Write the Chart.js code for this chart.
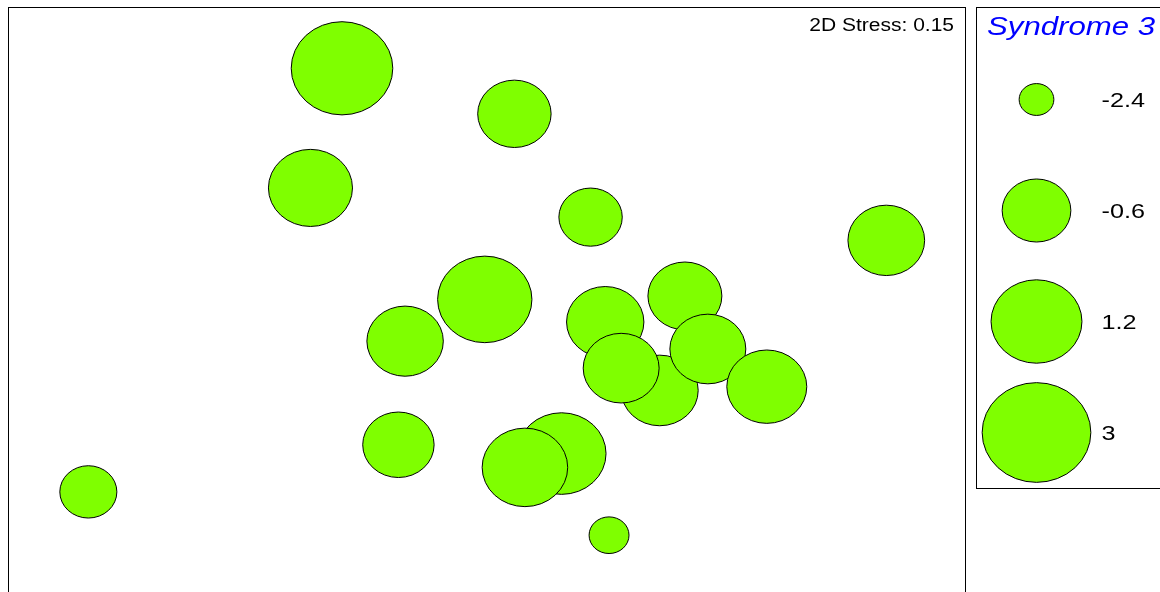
<!doctype html>
<html>

<head>
<title>NMDS bubble plot - Syndrome 3</title>
<script src="https://cdn.jsdelivr.net/npm/chart.js@4/dist/chart.umd.min.js"></script>
<style>
html, body {
	margin: 0;
	padding: 0;
	background: #fff;
	overflow: hidden;
}
#plotBox {
	position: absolute;
	left: 8px;
	top: 7px;
	width: 958px;
	height: 630px;
	border: 1px solid #000;
	box-sizing: border-box;
}
#keyBox {
	position: absolute;
	left: 976px;
	top: 7px;
	width: 250px;
	height: 482px;
	border: 1px solid #000;
	box-sizing: border-box;
}
</style>
</head>

<body>
	<div id="plotBox"><canvas id="canvas"></canvas></div>
	<div id="keyBox"><canvas id="key"></canvas></div>
	<script>
		// NMDS site scores and Syndrome 3 value for each site
		const nmds1 = [-0.455, 0.086, -0.554, 0.325, 1.253, -0.007, -0.257, 0.371, 0.621,
			0.542, 0.421, 0.693, 0.878, -0.278, 0.234, 0.119, -1.251, 0.383];
		const nmds2 = [0.808, 0.663, 0.427, 0.334, 0.260, 0.072, -0.061, 0.000, 0.083,
			-0.218, -0.147, -0.086, -0.206, -0.391, -0.419, -0.463, -0.541, -0.679];
		const syndrome3 = [2.24, -0.26, 0.59, -0.96, -0.01, 1.52, -0.03, 0.04, -0.22,
			0.01, -0.07, -0.07, 0.25, -0.41, 1.02, 0.72, -1.35, -2.20];

		const legendValues = [-2.4, -0.6, 1.2, 3];
		const legendLabels = ['-2.4', '-0.6', '1.2', '3'];
		const stressLabel = '2D Stress: 0.15';
		const legendTitle = 'Syndrome 3';

		const FILL = '#7fff00';
		const ASPECT = 1.09;   // symbols come out a bit wider than tall
		const TEXT_SX = 1.2;   // text is horizontally stretched too
		const FONT = '"Liberation Sans", Arial, Helvetica, sans-serif';

		// area of the symbol grows linearly with the value
		function symbolRadius(v) {
			return Math.sqrt(1514.6 + 498.1 * v) - 0.5;
		}

		class EllipsePoint extends Chart.PointElement {
			draw(ctx) {
				const o = this.options;
				if (this.skip || o.radius < 0.1) {
					return;
				}
				ctx.save();
				ctx.beginPath();
				ctx.ellipse(this.x, this.y, o.radius, o.radius / ASPECT, 0, 0, Math.PI * 2);
				ctx.fillStyle = o.backgroundColor;
				ctx.fill();
				ctx.lineWidth = o.borderWidth;
				ctx.strokeStyle = o.borderColor;
				ctx.stroke();
				ctx.restore();
			}
		}
		EllipsePoint.id = 'ellipsePoint';

		class EllipseBubbleController extends Chart.BubbleController {}
		EllipseBubbleController.id = 'ellipseBubble';
		EllipseBubbleController.defaults = Object.assign({}, Chart.BubbleController.defaults, {
			dataElementType: 'ellipsePoint'
		});

		Chart.register(EllipsePoint, EllipseBubbleController);

		function stretchedText(ctx, text, x, y, font, color, align) {
			ctx.save();
			ctx.translate(x, y);
			ctx.scale(TEXT_SX, 1);
			ctx.font = font;
			ctx.fillStyle = color;
			ctx.textAlign = align;
			ctx.textBaseline = 'alphabetic';
			ctx.fillText(text, 0, 0);
			ctx.restore();
		}

		const stressPlugin = {
			id: 'stress',
			afterDraw(chart) {
				const a = chart.chartArea;
				stretchedText(chart.ctx, stressLabel, a.right - 11, a.top + 23,
					'17.5px ' + FONT, '#000', 'right');
			}
		};

		const keyTextPlugin = {
			id: 'keyText',
			afterDraw(chart) {
				const ctx = chart.ctx;
				const a = chart.chartArea;
				const y = chart.scales.y;
				stretchedText(ctx, legendTitle, 10, 26.5, 'italic 26px ' + FONT, '#0000ff', 'left');
				legendValues.forEach((v, i) => {
					stretchedText(ctx, legendLabels[i], a.right + 5.5, y.getPixelForValue(v) + 7,
						'21px ' + FONT, '#000', 'left');
				});
			}
		};

		const hidden = {display: false};

		window.onload = function() {
			new Chart(document.getElementById('canvas'), {
				type: 'ellipseBubble',
				data: {
					datasets: [{
						label: legendTitle,
						data: nmds1.map((x, i) => ({x: x, y: nmds2[i], r: symbolRadius(syndrome3[i])})),
						backgroundColor: FILL,
						borderColor: '#000',
						borderWidth: 1,
						clip: false
					}]
				},
				options: {
					responsive: true,
					maintainAspectRatio: false,
					animation: false,
					layout: {padding: 0, autoPadding: false},
					scales: {
						x: Object.assign({type: 'linear', min: -1.5, max: 1.5}, hidden),
						y: Object.assign({type: 'linear', min: -1, max: 1}, hidden)
					},
					plugins: {
						legend: hidden,
						tooltip: {enabled: false}
					}
				},
				plugins: [stressPlugin]
			});

			new Chart(document.getElementById('key'), {
				type: 'ellipseBubble',
				data: {
					datasets: [{
						data: legendValues.map(v => ({x: 0, y: v, r: symbolRadius(v)})),
						backgroundColor: FILL,
						borderColor: '#000',
						borderWidth: 1,
						clip: false
					}]
				},
				options: {
					responsive: true,
					maintainAspectRatio: false,
					animation: false,
					layout: {padding: {top: 36, right: 129, left: 0, bottom: 0}, autoPadding: false},
					scales: {
						x: Object.assign({type: 'linear', min: -1, max: 1}, hidden),
						y: Object.assign({type: 'linear', min: -3.3, max: 3.9, reverse: true}, hidden)
					},
					plugins: {
						legend: hidden,
						tooltip: {enabled: false}
					}
				},
				plugins: [keyTextPlugin]
			});
		};
	</script>
</body>

</html>
